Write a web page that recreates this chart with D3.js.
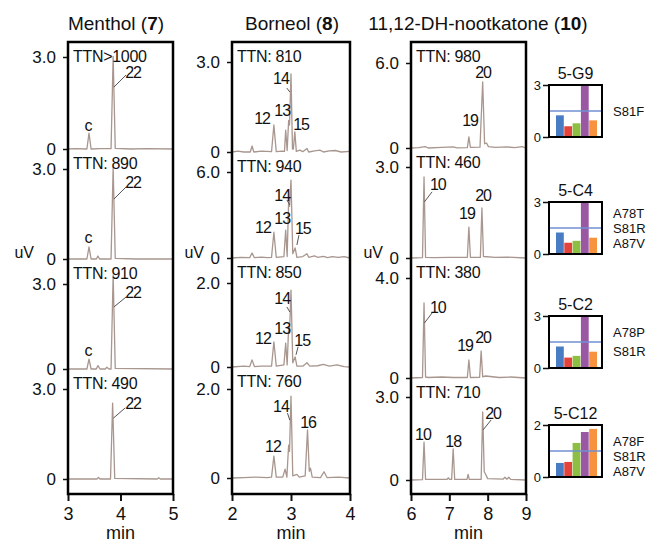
<!DOCTYPE html>
<html>
<head>
<meta charset="utf-8">
<script src="https://cdn.jsdelivr.net/npm/d3@7"></script>
<style>
body { margin: 0; background: #fff; }
text { font-family: "Liberation Sans", Arial, sans-serif; fill: #111; }
</style>
</head>
<body>
<div id="chart"></div>
<script>
// ---------- data ----------
const panelTitles = [["Menthol (", "7", ")"], ["Borneol (", "8", ")"], ["11,12-DH-nootkatone (", "10", ")"]];
const panelDomains = [[3, 5], [2, 4], [6, 9]];
const panelTicks = [[3, 4, 5], [2, 3, 4], [6, 7, 8, 9]];

const mentholMax = [3, 3, 3, 3];
const borneolMax = [3, 6, 2, 2];
const nootMax = [6, 3, 4, 3];

const mentholTTN = ["TTN>1000", "TTN: 890", "TTN: 910", "TTN: 490"];
const borneolTTN = ["TTN: 810", "TTN: 940", "TTN: 850", "TTN: 760"];
const nootTTN = ["TTN: 980", "TTN: 460", "TTN: 380", "TTN: 710"];

// traces: [time (min), signal]
const mentholTraces = [
  [[3.0,0],[3.15,0.01],[3.36,0],[3.4,0.52],[3.44,0],[3.6,0.01],[3.82,0.01],[3.86,3.02],[3.9,0.02],[4.2,0],[4.5,0.01],[5.0,0]],
  [[3.0,0],[3.36,0],[3.4,0.4],[3.44,0],[3.54,0],[3.57,0.1],[3.6,0],[3.82,0],[3.86,3.05],[3.9,0.02],[4.3,0],[5.0,0]],
  [[3.0,0],[3.36,0],[3.4,0.35],[3.44,0],[3.54,0],[3.57,0.12],[3.61,0],[3.71,0],[3.74,0.06],[3.78,0],[3.82,0],[3.86,3.32],[3.9,0.02],[5.0,0]],
  [[3.0,0],[3.55,0],[3.58,0.05],[3.61,0],[3.81,0],[3.85,2.53],[3.89,0.02],[4.7,0],[4.73,0.04],[4.76,0],[5.0,0]]
];
const borneolTraces = [
  [[2,0],[2.1,0.03],[2.2,0],[2.31,0],[2.34,0.2],[2.37,0],[2.5,0.03],[2.67,0.01],[2.71,0.9],[2.75,0.01],[2.85,0.03],[2.89,0.02],[2.91,0.73],[2.935,0.05],[2.96,1.05],[2.975,0.9],[3.0,2.6],[3.025,0.1],[3.04,0.1],[3.065,0.67],[3.09,0.02],[3.15,0.06],[3.2,0.01],[3.27,0.12],[3.3,0],[3.4,0.04],[3.49,0.06],[3.55,0],[3.65,0.04],[3.75,0.05],[3.85,0],[4,0.02]],
  [[2,0],[2.15,0.05],[2.3,0.02],[2.34,0.35],[2.38,0.02],[2.5,0.06],[2.6,0.02],[2.67,0.05],[2.71,1.8],[2.75,0.05],[2.88,0.1],[2.91,1.95],[2.935,0.1],[2.96,4.0],[2.975,3.6],[3.0,5.44],[3.03,0.3],[3.07,0.7],[3.1,0.05],[3.2,0.1],[3.27,0.3],[3.3,0.05],[3.4,0.15],[3.45,0.05],[3.55,0.12],[3.62,0.02],[3.7,0.1],[3.8,0.05],[3.9,0.1],[4,0]],
  [[2,0],[2.2,0.02],[2.3,0.01],[2.34,0.17],[2.38,0.01],[2.5,0.02],[2.67,0.02],[2.71,0.6],[2.75,0.02],[2.88,0.05],[2.91,0.57],[2.935,0.05],[2.96,0.95],[2.975,0.8],[3.0,1.83],[3.03,0.1],[3.07,0.24],[3.1,0.02],[3.2,0.02],[3.27,0.1],[3.32,0.02],[3.45,0.03],[3.55,0.06],[3.65,0.02],[3.78,0.05],[3.9,0.01],[4,0]],
  [[2,0],[2.2,0.01],[2.4,0.02],[2.6,0.01],[2.67,0.02],[2.71,0.49],[2.75,0.02],[2.86,0.02],[2.9,0.2],[2.93,0.02],[2.96,0.74],[2.975,0.6],[3.0,1.84],[3.03,0.05],[3.1,0.08],[3.14,0.02],[3.24,0.05],[3.28,1.08],[3.31,0.15],[3.33,0.22],[3.36,0.02],[3.5,0.01],[3.56,0.14],[3.61,0.01],[3.8,0.02],[4,0]]
];
const nootTraces = [
  [[6,0],[6.2,0.03],[6.37,0.1],[6.45,0],[6.8,0.04],[7.1,0.08],[7.2,0.01],[7.47,0.03],[7.51,0.78],[7.55,0.05],[7.8,0.06],[7.87,4.66],[7.92,0.3],[7.97,0.35],[8.02,0.1],[8.2,0.05],[8.5,0.08],[8.7,0.03],[8.9,0.1],[9,0]],
  [[6,0],[6.3,0.01],[6.34,2.67],[6.38,0.02],[6.6,0.01],[7.0,0.02],[7.47,0.02],[7.51,1.02],[7.55,0.02],[7.81,0.02],[7.85,1.65],[7.89,0.05],[8.2,0.02],[8.5,0.03],[9,0]],
  [[6,0],[6.3,0.02],[6.34,3.0],[6.38,0.04],[6.45,0.02],[6.8,0.04],[7.1,0.02],[7.47,0.02],[7.51,0.72],[7.55,0.02],[7.79,0.03],[7.83,1.08],[7.87,0.05],[7.95,0.08],[8.3,0.02],[8.6,0.04],[9,0]],
  [[6,0],[6.3,0.01],[6.34,1.37],[6.38,0.02],[6.94,0.02],[6.97,0.08],[7.01,0.02],[7.06,0.02],[7.1,1.12],[7.14,0.02],[7.46,0.02],[7.49,0.2],[7.52,0.02],[7.83,0.02],[7.87,2.46],[7.91,0.3],[7.95,0.2],[8.0,0.05],[8.4,0.03],[8.45,0.1],[8.5,0.03],[8.55,0.1],[8.6,0.02],[9,0]]
];

// peak labels: [text, time, signal]
const mentholLabels = [
  [["c",3.38,0.78],["22",4.24,2.51]],
  [["c",3.38,0.73],["22",4.24,2.57]],
  [["c",3.38,0.64],["22",4.24,2.72]],
  [["22",4.24,2.53]]
];
const borneolLabels = [
  [["12",2.51,1.13],["13",2.85,1.4],["14",2.83,2.47],["15",3.17,0.93]],
  [["12",2.525,2.16],["13",2.85,2.79],["14",2.85,4.39],["15",3.2,2.09]],
  [["12",2.525,0.69],["13",2.85,0.93],["14",2.85,1.64],["15",3.19,0.64]],
  [["12",2.695,0.7],["14",2.83,1.6],["16",3.29,1.26]]
];
const nootLabels = [
  [["19",7.54,1.98],["20",7.88,5.36]],
  [["10",6.7,2.41],["19",7.46,1.48],["20",7.88,2.08]],
  [["10",6.7,2.84],["19",7.41,1.32],["20",7.88,1.64]],
  [["10",6.31,1.65],["18",7.1,1.41],["20",8.14,2.42]]
];
// leader lines: [t1, v1, t2, v2]
const mentholLeaders = [
  [[3.875,2.02,4.105,2.41]],
  [[3.875,2.0,4.105,2.4]],
  [[3.875,2.19,4.105,2.54]],
  [[3.865,2.03,4.09,2.37]]
];
const borneolLeaders = [
  [[2.93,2.13,2.98,2.0]],
  [[2.93,4.05,2.98,3.7],[3.135,1.6,3.1,0.91]],
  [[2.93,1.43,2.98,1.31],[3.12,0.48,3.085,0.29]],
  [[2.94,1.46,2.98,1.3]]
];
const nootLeaders = [
  [],
  [[6.35,1.85,6.55,2.18]],
  [[6.35,2.2,6.55,2.6]],
  [[7.88,1.81,8.09,2.17]]
];

// bar insets
const variantNames = ["5-G9", "5-C4", "5-C2", "5-C12"];
const variantMutations = [["S81F"], ["A78T", "S81R", "A87V"], ["A78P", "S81R"], ["A78F", "S81R", "A87V"]];
const variantMax = [3, 3, 3, 2];
const variantRef = [1.5, 1.5, 1.5, 1.0];
const barKeys = ["b1", "b2", "b3", "b4", "b5"];
const g9Values = [1.25, 0.62, 0.79, 3.0, 0.96];
const c4Values = [1.24, 0.65, 0.76, 3.0, 0.94];
const c2Values = [1.24, 0.6, 0.7, 3.0, 0.94];
const c12Values = [0.54, 0.58, 1.31, 1.73, 1.85];
const barColors = ["#4a7cc3", "#e3433b", "#8cbf42", "#9a58a3", "#f7923e"];

// ---------- layout ----------
const width = 658, height = 542;
const boxTop = 42, boxBottom = 494;
const panelX = [[68, 173], [232, 350], [411, 526]];
const rowPix = [
  [[57,149],[169,259],[284,369],[389,479]],
  [[62,152],[172,258],[283,367],[389,478]],
  [[63,148],[167,258],[278,378],[397,480]]
];
const titleCx = [116, 292, 478];
const uvDx = [34, 28, 28];

const panels = [
  { max: mentholMax, ttn: mentholTTN, traces: mentholTraces, labels: mentholLabels, leaders: mentholLeaders },
  { max: borneolMax, ttn: borneolTTN, traces: borneolTraces, labels: borneolLabels, leaders: borneolLeaders },
  { max: nootMax, ttn: nootTTN, traces: nootTraces, labels: nootLabels, leaders: nootLeaders }
];

const svg = d3.select("#chart")
  .append("svg")
  .attr("width", width)
  .attr("height", height);

const traceColor = "#a8968f";

panels.forEach((p, i) => {
  const [x0, x1] = panelX[i];
  const x = d3.scaleLinear().domain(panelDomains[i]).range([x0, x1]);
  const g = svg.append("g");

  // title
  const t = g.append("text")
    .attr("x", titleCx[i])
    .attr("y", 30)
    .attr("text-anchor", "middle")
    .style("font-size", "19px");
  t.append("tspan").text(panelTitles[i][0]);
  t.append("tspan").style("font-weight", "bold").text(panelTitles[i][1]);
  t.append("tspan").text(panelTitles[i][2]);

  p.max.forEach((m, r) => {
    const [yTop, yZero] = rowPix[i][r];
    const y = d3.scaleLinear().domain([0, m]).range([yZero, yTop]);

    // y axis ticks
    const ax = g.append("g")
      .attr("transform", `translate(${x0},0)`)
      .call(d3.axisLeft(y).tickValues([0, m]).tickSize(5).tickPadding(7)
        .tickFormat(d => d === 0 ? "0" : d3.format(".1f")(d)));
    ax.select(".domain").remove();
    ax.selectAll("line").attr("stroke", "#111").attr("stroke-width", 1.5);
    ax.selectAll("text").style("font-size", "17px").style("font-family", "Liberation Sans, Arial, sans-serif").attr("fill", "#111");

    // trace
    const line = d3.line().x(d => x(d[0])).y(d => y(d[1]));
    g.append("path")
      .datum(p.traces[r])
      .attr("d", line)
      .attr("fill", "none")
      .attr("stroke", traceColor)
      .attr("stroke-width", 1.3)
      .attr("stroke-linejoin", "round");

    // leaders
    g.selectAll(null)
      .data(p.leaders[r])
      .enter()
      .append("line")
      .attr("x1", d => x(d[0])).attr("y1", d => y(d[1]))
      .attr("x2", d => x(d[2])).attr("y2", d => y(d[3]))
      .attr("stroke", "#555")
      .attr("stroke-width", 1);

    // peak labels
    g.selectAll(null)
      .data(p.labels[r])
      .enter()
      .append("text")
      .attr("x", d => x(d[1]))
      .attr("y", d => y(d[2]))
      .attr("dy", "0.35em")
      .attr("text-anchor", "middle")
      .style("font-size", "16px")
      .style("letter-spacing", "-1px")
      .text(d => d[0]);

    // TTN label
    const prevZero = r === 0 ? boxTop : rowPix[i][r - 1][1];
    g.append("text")
      .attr("x", x0 + 5)
      .attr("y", prevZero + 19.5)
      .style("font-size", "16px")
      .style("letter-spacing", "-0.3px")
      .text(p.ttn[r]);
  });

  // uV label
  g.append("text")
    .attr("x", x0 - uvDx[i])
    .attr("y", 258)
    .attr("text-anchor", "end")
    .style("font-size", "16px")
    .text("uV");

  // bottom axis
  const bx = g.append("g")
    .attr("transform", `translate(0,${boxBottom})`)
    .call(d3.axisBottom(x).tickValues(panelTicks[i]).tickSize(7).tickPadding(6).tickFormat(d3.format("d")));
  bx.select(".domain").remove();
  bx.selectAll("line").attr("stroke", "#111").attr("stroke-width", 2);
  bx.selectAll("text").style("font-size", "18px").style("font-family", "Liberation Sans, Arial, sans-serif").attr("fill", "#111");

  g.append("text")
    .attr("x", (x0 + x1) / 2)
    .attr("y", 539)
    .attr("text-anchor", "middle")
    .style("font-size", "18px")
    .text("min");

  // frame
  g.append("rect")
    .attr("x", x0).attr("y", boxTop)
    .attr("width", x1 - x0).attr("height", boxBottom - boxTop)
    .attr("fill", "none")
    .attr("stroke", "#000")
    .attr("stroke-width", 2.5);
});

// ---------- bar insets ----------
const barValues = [g9Values, c4Values, c2Values, c12Values];
const insetTop = [85, 202, 316, 425];
const insetH = 52;
const insetX = [549, 602];
const mutSpacing = [0, 15, 19, 15];
const mutOffset = [0, 0, 0, 5];

const xb = d3.scaleBand().domain(barKeys).range([556, 597]).paddingInner(0.06);

barValues.forEach((vals, k) => {
  const top = insetTop[k];
  const yb = d3.scaleLinear().domain([0, variantMax[k]]).range([top + insetH, top]);
  const g = svg.append("g");

  g.append("text")
    .attr("x", (insetX[0] + insetX[1]) / 2)
    .attr("y", top - 6)
    .attr("text-anchor", "middle")
    .style("font-size", "16px")
    .text(variantNames[k]);

  g.selectAll("rect.bar")
    .data(vals)
    .enter()
    .append("rect")
    .attr("class", "bar")
    .attr("x", (d, j) => xb(barKeys[j]))
    .attr("width", xb.bandwidth())
    .attr("y", d => yb(d))
    .attr("height", d => yb(0) - yb(d))
    .attr("fill", (d, j) => barColors[j]);

  g.append("line")
    .attr("x1", insetX[0]).attr("x2", insetX[1] + 1)
    .attr("y1", yb(variantRef[k])).attr("y2", yb(variantRef[k]))
    .attr("stroke", "#6f90d2")
    .attr("stroke-width", 1.5);

  const ax = g.append("g")
    .attr("transform", `translate(${insetX[0]},0)`)
    .call(d3.axisLeft(yb).tickValues([0, variantMax[k]]).tickSize(6).tickPadding(2).tickFormat(d3.format("d")));
  ax.select(".domain").remove();
  ax.selectAll("line").attr("stroke", "#111").attr("stroke-width", 1.5);
  ax.selectAll("text").style("font-size", "13px").style("font-family", "Liberation Sans, Arial, sans-serif").attr("fill", "#111");

  g.append("rect")
    .attr("x", insetX[0]).attr("y", top)
    .attr("width", insetX[1] - insetX[0]).attr("height", insetH)
    .attr("fill", "none")
    .attr("stroke", "#000")
    .attr("stroke-width", 2);

  const muts = variantMutations[k];
  const mid = top + insetH / 2 + mutOffset[k];
  g.selectAll("text.mut")
    .data(muts)
    .enter()
    .append("text")
    .attr("class", "mut")
    .attr("x", 613)
    .attr("y", (d, j) => mid + (j - (muts.length - 1) / 2) * mutSpacing[k])
    .attr("dy", "0.35em")
    .style("font-size", "13px")
    .text(d => d);
});
</script>
</body>
</html>
